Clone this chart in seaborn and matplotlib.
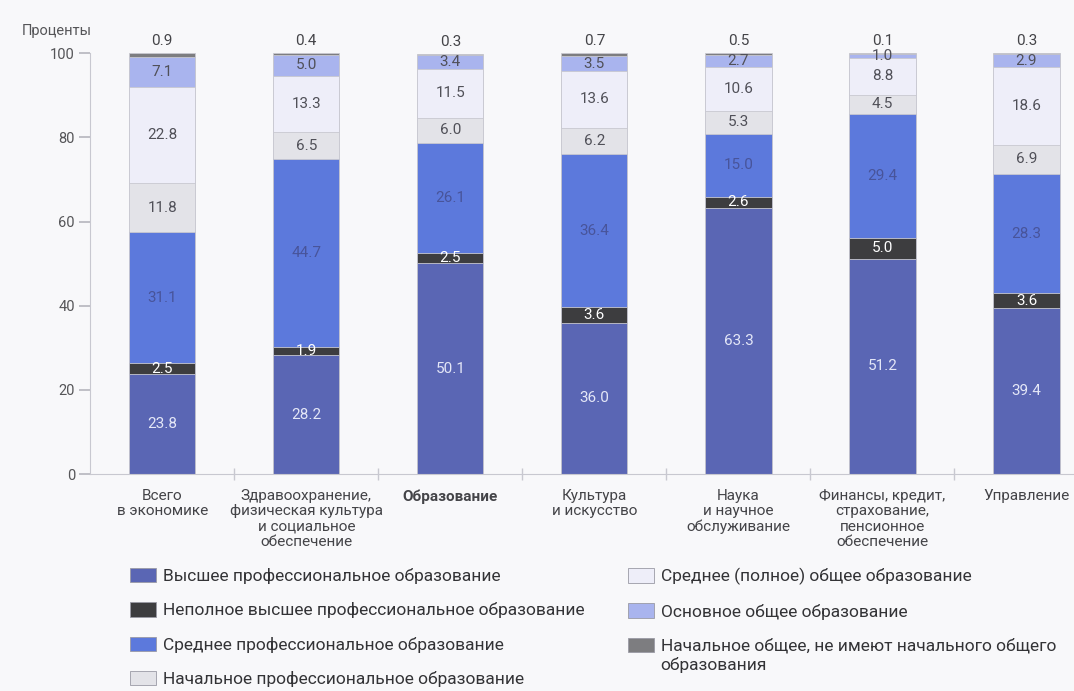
import matplotlib.pyplot as plt
import seaborn as sns
import numpy as np
from matplotlib.patches import Patch
from matplotlib.ticker import FixedLocator

categories = [
    "Всего\nв экономике",
    "Здравоохранение,\nфизическая культура\nи социальное\nобеспечение",
    "Образование",
    "Культура\nи искусство",
    "Наука\nи научное\nобслуживание",
    "Финансы, кредит,\nстрахование,\nпенсионное\nобеспечение",
    "Управление",
]

series_names = [
    "Высшее профессиональное образование",
    "Неполное высшее профессиональное образование",
    "Среднее профессиональное образование",
    "Начальное профессиональное образование",
    "Среднее (полное) общее образование",
    "Основное общее образование",
    "Начальное общее, не имеют начального общего",
]
last_name_tail = "образования"

vysshee = [23.8, 28.2, 50.1, 36.0, 63.3, 51.2, 39.4]
nepolnoe = [2.5, 1.9, 2.5, 3.6, 2.6, 5.0, 3.6]
srednee_prof = [31.1, 44.7, 26.1, 36.4, 15.0, 29.4, 28.3]
nachalnoe_prof = [11.8, 6.5, 6.0, 6.2, 5.3, 4.5, 6.9]
srednee_obsh = [22.8, 13.3, 11.5, 13.6, 10.6, 8.8, 18.6]
osnovnoe = [7.1, 5.0, 3.4, 3.5, 2.7, 1.0, 2.9]
nachalnoe_obsh = [0.9, 0.4, 0.3, 0.7, 0.5, 0.1, 0.3]

series = [vysshee, nepolnoe, srednee_prof, nachalnoe_prof, srednee_obsh, osnovnoe, nachalnoe_obsh]

colors = ["#5a66b4", "#3d3d3f", "#5c79dc", "#e3e3e8", "#eeeef9", "#a9b4ee", "#7d7d80"]
label_colors = ["#e4e7f7", "#ffffff", "#48549a", "#505058", "#505058", "#505058", "#505058"]

sns.set_theme(style="white")
plt.rcParams["font.family"] = ["Roboto", "DejaVu Sans"]

fig = plt.figure(figsize=(10.74, 6.91), dpi=100, facecolor="#f8f8fa")
ax = fig.add_axes([0.084, 0.314, 0.916, 0.609])
ax.set_facecolor("#f8f8fa")

data = np.array(series)
cum = np.cumsum(data, axis=0)

# overlapping cumulative bars, tallest first
for i in range(len(series) - 1, -1, -1):
    sns.barplot(x=categories, y=cum[i], color=colors[i], width=0.46, ax=ax,
                edgecolor="#c8c8d0", linewidth=0.6, saturation=1, order=categories)

for i, vals in enumerate(series):
    for j, v in enumerate(vals):
        if i == len(series) - 1:
            ax.text(j, cum[i][j] + 1.2, f"{v:.1f}", ha="center", va="bottom",
                    fontsize=11, color="#444448")
        else:
            ax.text(j, cum[i][j] - v / 2, f"{v:.1f}", ha="center", va="center",
                    fontsize=11, color=label_colors[i])

ax.set_ylim(0, 100)
ax.set_xlim(-0.5, 6.33)
ax.set_yticks([0, 20, 40, 60, 80, 100])
ax.tick_params(axis="y", left=True, length=8, color="#b8b8c0", labelsize=10.5,
               labelcolor="#555558", pad=3)
ax.tick_params(axis="x", bottom=False, labelsize=11, labelcolor="#444448", pad=5)
ax.xaxis.set_minor_locator(FixedLocator([0.5, 1.5, 2.5, 3.5, 4.5, 5.5]))
ax.tick_params(axis="x", which="minor", bottom=True, direction="inout", length=8,
               color="#c8c8d0")
for lbl in ax.get_xticklabels():
    lbl.set_linespacing(1.1)
    if lbl.get_text() == "Образование":
        lbl.set_fontweight("bold")
ax.set_xlabel("")
ax.set_ylabel("")
for s in ["top", "right"]:
    ax.spines[s].set_visible(False)
for s in ["left", "bottom"]:
    ax.spines[s].set_color("#c8c8d0")
    ax.spines[s].set_linewidth(0.8)

fig.text(0.02, 0.949, "Проценты", fontsize=10.5, color="#555558")

handles = [Patch(facecolor=c, edgecolor="#9a9aa5", linewidth=0.6) for c in colors]
leg_kw = dict(frameon=False, handlelength=1.5, handleheight=0.9,
              labelspacing=1.04, handletextpad=0.4, borderaxespad=0,
              prop={"size": 12.5})
leg1 = fig.legend(handles[:4], series_names[:4], loc="upper left",
                  bbox_to_anchor=(0.115, 0.188), **leg_kw)
leg2 = fig.legend(handles[4:], series_names[4:], loc="upper left",
                  bbox_to_anchor=(0.578, 0.188), **leg_kw)
for leg in (leg1, leg2):
    for t in leg.get_texts():
        t.set_color("#333336")

# second line of the last legend label, placed under its first line
fig.canvas.draw()
bb = leg2.get_texts()[-1].get_window_extent()
x0, y0 = fig.transFigure.inverted().transform((bb.x0, bb.y0))
fig.text(x0, y0 - 0.004, last_name_tail, fontsize=12.5, color="#333336",
         ha="left", va="top")

fig.savefig("out.png", dpi=100, facecolor=fig.get_facecolor())
